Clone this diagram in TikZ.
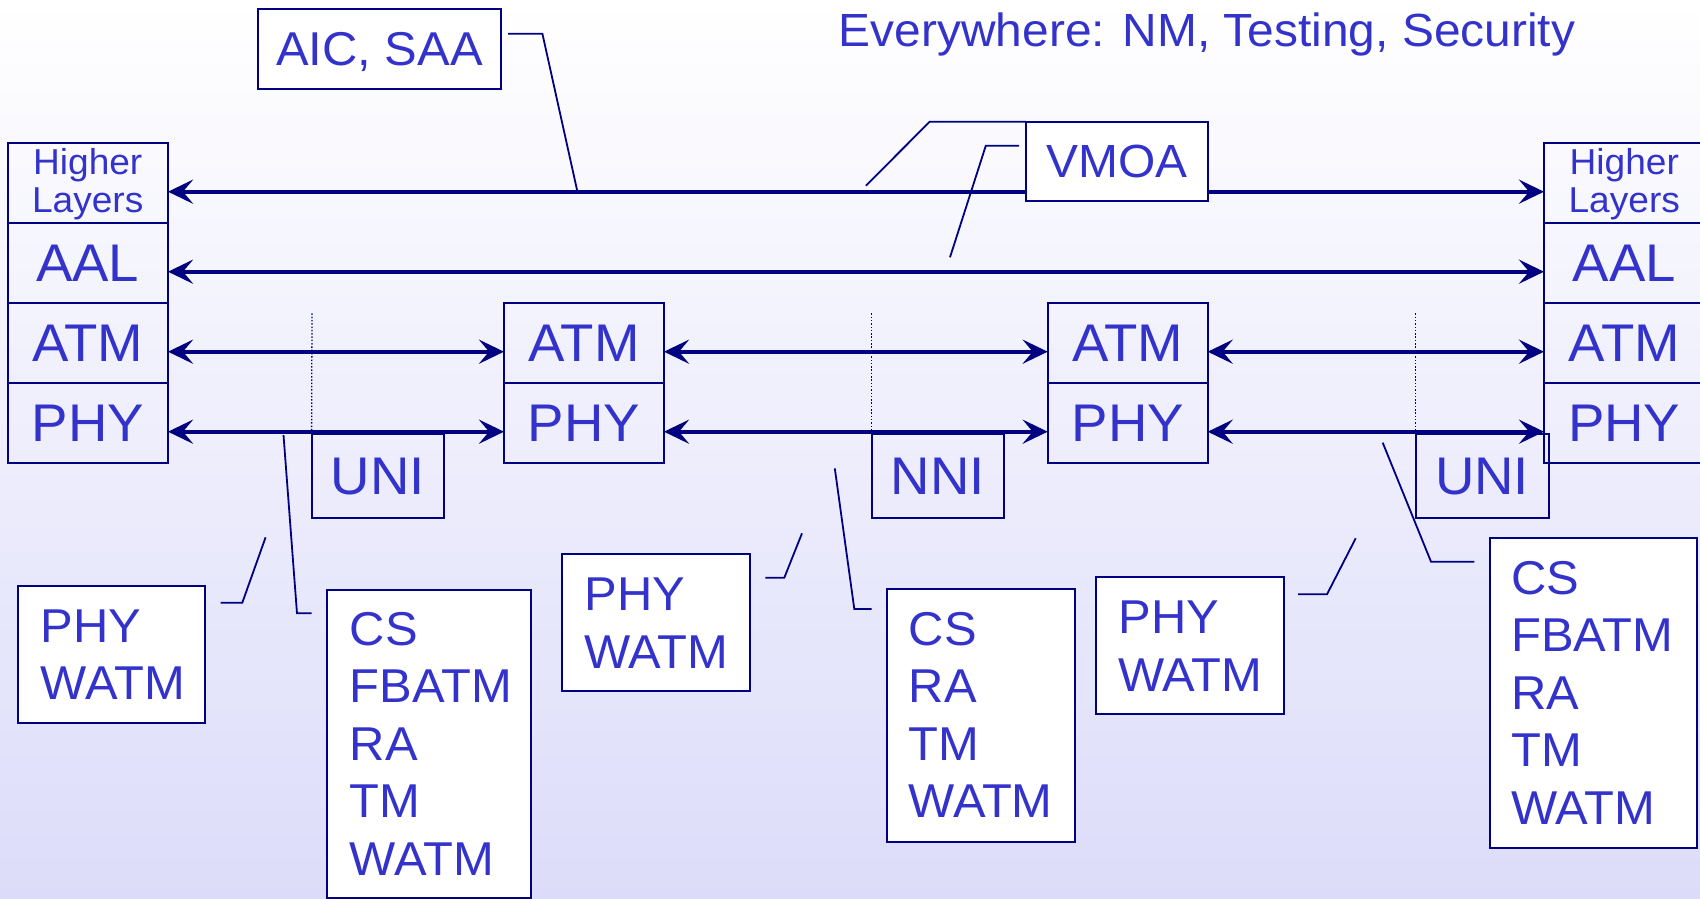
\documentclass[tikz,border=0pt]{standalone}
\usepackage{fontspec}
\setmainfont{Liberation Sans}[FakeStretch=1.03]
\usetikzlibrary{arrows.meta,calc}
\definecolor{txtblue}{RGB}{51,51,204}
\definecolor{linenavy}{RGB}{0,0,128}
\definecolor{bgbot}{RGB}{220,220,250}
\begin{document}
\begin{tikzpicture}[x=1pt,y=-1pt,
  layerbox/.style={draw=linenavy, line width=2pt, minimum width=160.5pt, minimum height=80pt,
    inner sep=0pt, outer sep=0pt, anchor=north west, text=txtblue,
    font=\fontsize{53}{60}\selectfont, text depth=0pt},
  hlbox/.style={layerbox, font=\fontsize{36}{37.6}\selectfont, align=center, text depth=6pt},
  tbox/.style={draw=linenavy, line width=2pt, inner sep=0pt, outer sep=0pt, anchor=north west,
    text=txtblue, font=\fontsize{53}{60}\selectfont, text depth=0pt},
  wbox/.style={draw=linenavy, line width=2pt, fill=white, inner sep=0pt, outer sep=0pt,
    anchor=north west, text=txtblue, text depth=0pt},
  listtxt/.style={anchor=north west, inner sep=0pt, align=left, text=txtblue,
    font=\fontsize{47.5}{57.6}\selectfont},
  arr/.style={draw=linenavy, line width=4pt,
    arrows={Stealth[length=25pt,width=24pt,inset=10pt]-Stealth[length=25pt,width=24pt,inset=10pt]}},
  lead/.style={draw=linenavy, line width=1.8pt},
  dotline/.style={draw=linenavy, line width=1.3pt, dash pattern=on 1.5pt off 1.8pt}
]
\useasboundingbox (0,0) rectangle (1700,899);
\clip (0,0) rectangle (1700,899);
\fill[top color=white, bottom color=bgbot] (0,0) rectangle (1700,899);

% title
\node[anchor=base, inner sep=0pt, text=txtblue, font=\fontsize{46.5}{55}\selectfont] (title) at (1207,46.7) {Everywhere: NM, Testing, Security};

% left stack
\node[hlbox] (LH) at (7.5,143.3) {Higher\\Layers};
\node[layerbox] (LA) at (7.5,223.3) {AAL};
\node[layerbox] (LT) at (7.5,303.3) {ATM};
\node[layerbox] (LP) at (7.5,383.3) {PHY};
% right stack
\node[hlbox] (RH) at (1544,143.3) {Higher\\Layers};
\node[layerbox] (RA) at (1544,223.3) {AAL};
\node[layerbox] (RT) at (1544,303.3) {ATM};
\node[layerbox] (RP) at (1544,383.3) {PHY};
% middle stacks
\node[layerbox, minimum width=160pt] (M1T) at (504,303.3) {ATM};
\node[layerbox, minimum width=160pt] (M1P) at (504,383.3) {PHY};
\node[layerbox, minimum width=160pt] (M2T) at (1047.7,303.3) {ATM};
\node[layerbox, minimum width=160pt] (M2P) at (1047.7,383.3) {PHY};

% interface boxes
\node[tbox, minimum width=132.6pt, minimum height=84pt] (U1) at (311.6,434) {UNI};
\node[tbox, minimum width=132.7pt, minimum height=84pt] (NN) at (871.6,434) {NNI};
\node[tbox, minimum width=132.7pt, minimum height=84pt] (U2) at (1415.8,434) {UNI};

% dotted separators
\coordinate (d1) at (312,313.3);
\coordinate (d2) at (871.6,313.3);
\coordinate (d3) at (1415.8,313.3);
\draw[dotline] (d1) -- (U1.north west);
\draw[dotline] (d2) -- (NN.north west);
\draw[dotline] (d3) -- (U2.north west);

% arrows
\draw[arr] ($(LH.east)+(0,8.4)$) -- ($(RH.west)+(0,8.4)$);
\draw[arr] ($(LA.east)+(0,8.4)$) -- ($(RA.west)+(0,8.4)$);
\draw[arr] ($(LT.east)+(0,8.4)$) -- ($(M1T.west)+(0,8.4)$);
\draw[arr] ($(M1T.east)+(0,8.4)$) -- ($(M2T.west)+(0,8.4)$);
\draw[arr] ($(M2T.east)+(0,8.4)$) -- ($(RT.west)+(0,8.4)$);
\draw[arr] ($(LP.east)+(0,8.4)$) -- ($(M1P.west)+(0,8.4)$);
\draw[arr] ($(M1P.east)+(0,8.4)$) -- ($(M2P.west)+(0,8.4)$);
\draw[arr] ($(M2P.east)+(0,8.4)$) -- ($(RP.west)+(0,8.4)$);

% top label boxes
\node[wbox, minimum width=243pt, minimum height=79.7pt, font=\fontsize{47.5}{56}\selectfont] (AIC) at (258,9.3) {AIC, SAA};
\node[wbox, minimum width=182pt, minimum height=79.3pt, font=\fontsize{46.5}{55}\selectfont] (VMOA) at (1026,121.7) {VMOA};

% bottom boxes
\node[wbox, minimum width=187.5pt, minimum height=137pt] (bA) at (17.9,585.7) {};
\node[wbox, minimum width=203.2pt, minimum height=307.5pt] (bB) at (327.4,590) {};
\node[wbox, minimum width=187.6pt, minimum height=136.7pt] (bC) at (562,554) {};
\node[wbox, minimum width=187.6pt, minimum height=253pt] (bD) at (887.4,589.3) {};
\node[wbox, minimum width=188.1pt, minimum height=136.7pt] (bE) at (1095.5,577.3) {};
\node[wbox, minimum width=207pt, minimum height=310pt] (bF) at (1490,537.7) {};

\node[listtxt] (tA) at (40.7,609.3) {PHY\\WATM};
\node[listtxt] (tB) at (349.6,611.8) {CS\\FBATM\\RA\\TM\\WATM};
\node[listtxt] (tC) at (584.3,577.7) {PHY\\WATM};
\node[listtxt] (tD) at (908.5,611.8) {CS\\RA\\TM\\WATM};
\node[listtxt] (tE) at (1118.3,601) {PHY\\WATM};
\node[listtxt] (tF) at (1511,560.8) {CS\\FBATM\\RA\\TM\\WATM};

% leader lines
\coordinate (aicS) at (508,33.7);   \coordinate (aicE) at (577.2,190.7);
\draw[lead] (aicS) -- (542.4,33.7) -- (aicE);
\coordinate (vmE1) at (865.9,185.7);
\draw[lead] (VMOA.north west) -- (929.7,121.7) -- (vmE1);
\coordinate (vmS2) at (1019,145.7); \coordinate (vmE2) at (950,257.3);
\draw[lead] (vmS2) -- (985.8,145.7) -- (vmE2);
\coordinate (lAS) at (220.6,602.7); \coordinate (lAE) at (265.6,537.3);
\draw[lead] (lAS) -- (242.3,602.7) -- (lAE);
\coordinate (lBS) at (311.7,613.3); \coordinate (lBE) at (283.5,435);
\draw[lead] (lBS) -- (297,613.3) -- (lBE);
\coordinate (lCS) at (765.3,577.7); \coordinate (lCE) at (802,533.3);
\draw[lead] (lCS) -- (784.3,577.7) -- (lCE);
\coordinate (lDS) at (871.7,609);   \coordinate (lDE) at (834.8,468.4);
\draw[lead] (lDS) -- (854.3,609) -- (lDE);
\coordinate (lES) at (1298.2,594.3); \coordinate (lEE) at (1355.7,538.3);
\draw[lead] (lES) -- (1327,594.3) -- (lEE);
\coordinate (lFS) at (1474.4,561.7); \coordinate (lFE) at (1382.7,442.7);
\draw[lead] (lFS) -- (1431,561.7) -- (lFE);
\end{tikzpicture}
\end{document}
